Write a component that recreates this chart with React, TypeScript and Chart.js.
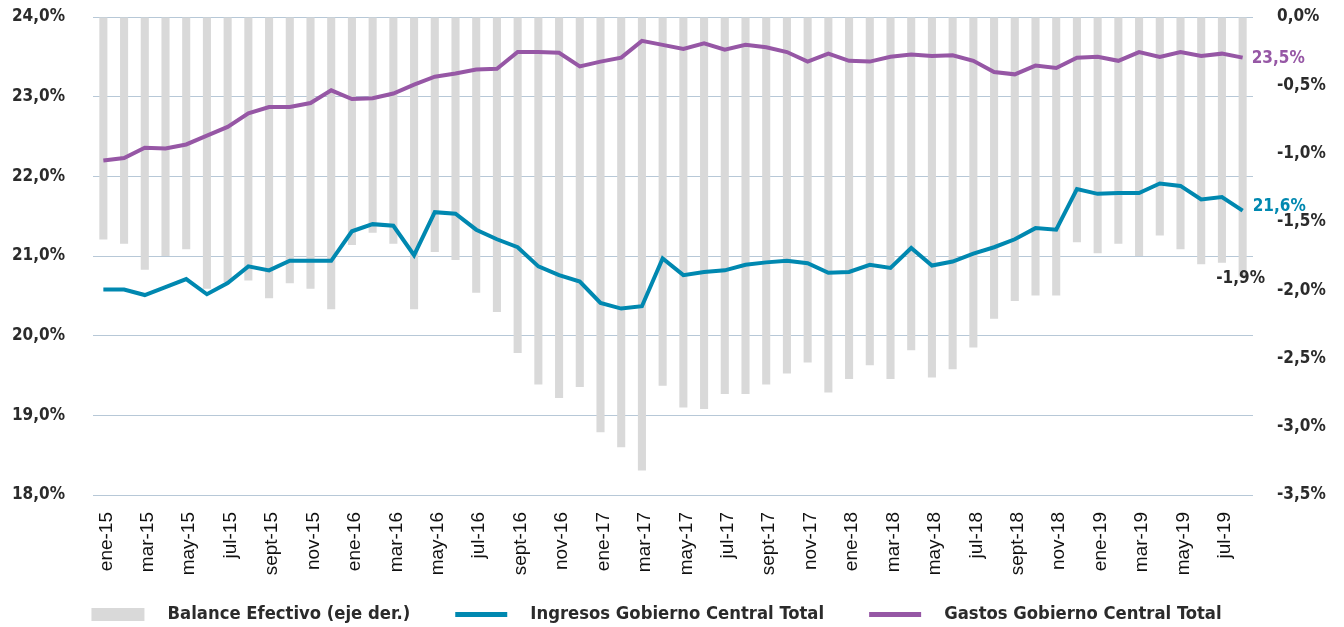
import React, { useEffect, useRef } from 'react';
import { Chart, registerables } from 'chart.js';

Chart.register(...registerables);

const categories = [
  'ene-15', 'feb-15', 'mar-15', 'abr-15', 'may-15', 'jun-15', 'jul-15', 'ago-15', 'sept-15', 'oct-15', 'nov-15', 'dic-15',
  'ene-16', 'feb-16', 'mar-16', 'abr-16', 'may-16', 'jun-16', 'jul-16', 'ago-16', 'sept-16', 'oct-16', 'nov-16', 'dic-16',
  'ene-17', 'feb-17', 'mar-17', 'abr-17', 'may-17', 'jun-17', 'jul-17', 'ago-17', 'sept-17', 'oct-17', 'nov-17', 'dic-17',
  'ene-18', 'feb-18', 'mar-18', 'abr-18', 'may-18', 'jun-18', 'jul-18', 'ago-18', 'sept-18', 'oct-18', 'nov-18', 'dic-18',
  'ene-19', 'feb-19', 'mar-19', 'abr-19', 'may-19', 'jun-19', 'jul-19', 'ago-19',
];

// Balance Efectivo (eje der.), % PIB
const balance = [
  -1.63, -1.66, -1.85, -1.75, -1.70, -1.99, -1.94, -1.93, -2.06, -1.95,
  -1.99, -2.14, -1.67, -1.58, -1.66, -2.14, -1.72, -1.78, -2.02, -2.16,
  -2.46, -2.69, -2.79, -2.71, -3.04, -3.15, -3.32, -2.70, -2.86, -2.87,
  -2.76, -2.76, -2.69, -2.61, -2.53, -2.75, -2.65, -2.55, -2.65, -2.44,
  -2.64, -2.58, -2.42, -2.21, -2.08, -2.04, -2.04, -1.65, -1.73, -1.66,
  -1.75, -1.60, -1.70, -1.81, -1.80, -1.90,
];

// Ingresos Gobierno Central Total, % PIB
const ingresos = [
  20.58, 20.58, 20.51, 20.61, 20.71, 20.52, 20.66, 20.87, 20.82, 20.94,
  20.94, 20.94, 21.31, 21.40, 21.38, 21.01, 21.55, 21.53, 21.33, 21.21,
  21.11, 20.87, 20.76, 20.68, 20.41, 20.34, 20.37, 20.97, 20.76, 20.80,
  20.82, 20.89, 20.92, 20.94, 20.91, 20.79, 20.80, 20.89, 20.85, 21.10,
  20.88, 20.93, 21.03, 21.11, 21.21, 21.35, 21.33, 21.84, 21.78, 21.79,
  21.79, 21.91, 21.88, 21.71, 21.74, 21.57,
];

// Gastos Gobierno Central Total, % PIB
const gastos = [
  22.20, 22.23, 22.36, 22.35, 22.40, 22.51, 22.62, 22.79, 22.87, 22.87,
  22.92, 23.08, 22.97, 22.98, 23.04, 23.15, 23.25, 23.29, 23.34, 23.35,
  23.56, 23.56, 23.55, 23.38, 23.44, 23.49, 23.70, 23.65, 23.60, 23.67,
  23.59, 23.65, 23.62, 23.56, 23.44, 23.54, 23.45, 23.44, 23.50, 23.53,
  23.51, 23.52, 23.45, 23.31, 23.28, 23.39, 23.36, 23.49, 23.50, 23.45,
  23.56, 23.50, 23.56, 23.51, 23.54, 23.49,
];

const seriesNames = ['Balance Efectivo (eje der.)', 'Ingresos Gobierno Central Total', 'Gastos Gobierno Central Total'];

const GRAY = '#d9d9d9';
const BLUE = '#0088b0';
const PURPLE = '#9657a5';
const TEXT = '#2b2b2b';
const GRID = '#b7c8d7';
const CLEAR = 'rgba(0,0,0,0)';
const TICK_FONT = '"DejaVu Sans Condensed", "DejaVu Sans", sans-serif';
const AXIS_X_FONT = '"Liberation Sans", Arial, sans-serif';

const fmt = (v: number) => v.toFixed(1).replace('.', ',') + '%';

function swatch(w: number, h: number, left: number, drawW: number, color: string) {
  const c = document.createElement('canvas');
  c.width = w;
  c.height = h;
  const ctx = c.getContext('2d')!;
  ctx.fillStyle = color;
  ctx.fillRect(left, 0, drawW, h);
  return c;
}

const endLabels = {
  id: 'endLabels',
  afterDatasetsDraw(chart: any) {
    const { ctx } = chart;
    const xs = chart.scales.x;
    const yl = chart.scales.y;
    const yr = chart.scales.y1;
    const last = categories.length - 1;
    const px = xs.getPixelForValue(last);
    ctx.save();
    ctx.font = `bold 17px ${TICK_FONT}`;
    ctx.textBaseline = 'middle';
    ctx.textAlign = 'left';
    ctx.fillStyle = PURPLE;
    ctx.fillText(fmt(gastos[last]), px + 9, yl.getPixelForValue(gastos[last]) + 1);
    ctx.fillStyle = BLUE;
    ctx.fillText(fmt(ingresos[last]), px + 10, yl.getPixelForValue(ingresos[last]) - 4);
    ctx.textAlign = 'center';
    ctx.fillStyle = TEXT;
    ctx.fillText(fmt(balance[last]), px - 2, yr.getPixelForValue(balance[last]) + 2);
    ctx.restore();
  },
};

export default function App() {
  const ref = useRef<HTMLCanvasElement | null>(null);

  useEffect(() => {
    if (!ref.current) return;
    const SW = 94;
    const swatches = [
      swatch(SW, 13, 27, 53, GRAY),
      swatch(SW, 5, 28, 52, BLUE),
      swatch(SW, 5, 28, 52, PURPLE),
    ];
    const chart = new Chart(ref.current, {
      type: 'bar',
      data: {
        labels: categories,
        datasets: [
          {
            type: 'line',
            label: seriesNames[1],
            data: ingresos,
            yAxisID: 'y',
            borderColor: BLUE,
            backgroundColor: BLUE,
            borderWidth: 4,
            pointRadius: 0,
            tension: 0,
            order: 1,
          } as any,
          {
            type: 'line',
            label: seriesNames[2],
            data: gastos,
            yAxisID: 'y',
            borderColor: PURPLE,
            backgroundColor: PURPLE,
            borderWidth: 4,
            pointRadius: 0,
            tension: 0,
            order: 2,
          } as any,
          {
            type: 'bar',
            label: seriesNames[0],
            data: balance,
            yAxisID: 'y1',
            backgroundColor: GRAY,
            categoryPercentage: 1,
            barPercentage: 0.39,
            order: 3,
          } as any,
        ],
      },
      options: {
        animation: false,
        responsive: true,
        maintainAspectRatio: false,
        layout: { padding: { top: 17, right: 0, bottom: 0, left: -58 } },
        plugins: {
          tooltip: { enabled: false },
          legend: {
            position: 'bottom',
            maxHeight: 39,
            labels: {
              usePointStyle: true,
              pointStyleWidth: SW,
              padding: 17,
              color: TEXT,
              font: { family: TICK_FONT, size: 18.3, weight: 'bold' },
              generateLabels: () =>
                seriesNames.map((name, i) => ({
                  text: name,
                  pointStyle: swatches[i],
                  fillStyle: CLEAR,
                  strokeStyle: CLEAR,
                  lineWidth: 0,
                  hidden: false,
                  fontColor: TEXT,
                  datasetIndex: i === 0 ? 2 : i - 1,
                })) as any,
            },
          },
        },
        scales: {
          x: {
            type: 'category',
            offset: true,
            grid: { display: false, drawTicks: false },
            border: { display: false },
            ticks: {
              autoSkip: false,
              minRotation: 90,
              maxRotation: 90,
              padding: 17,
              labelOffset: 3,
              color: '#111111',
              font: { family: AXIS_X_FONT, size: 19 },
              callback: (_v: any, idx: number) => (idx % 2 === 0 ? categories[idx] : ''),
            },
            afterFit: (s: any) => {
              s.height = 93;
            },
          },
          y: {
            position: 'left',
            min: 18,
            max: 24,
            grid: { color: GRID, lineWidth: 1, drawTicks: true, tickLength: 28, tickColor: CLEAR },
            border: { display: false },
            ticks: {
              stepSize: 1,
              padding: 0,
              color: TEXT,
              font: { family: TICK_FONT, size: 17, weight: 'bold' },
              callback: (v: any) => fmt(Number(v)),
            },
            afterFit: (s: any) => {
              s.width = 151;
            },
          },
          y1: {
            position: 'right',
            min: -3.5,
            max: 0,
            grid: { display: true, drawOnChartArea: false, color: CLEAR, drawTicks: true, tickLength: 24, tickColor: CLEAR },
            border: { display: false },
            ticks: {
              stepSize: 0.5,
              padding: 0,
              color: TEXT,
              font: { family: TICK_FONT, size: 17, weight: 'bold' },
              callback: (v: any) => fmt(Number(v)),
            },
            afterFit: (s: any) => {
              s.width = 91;
            },
          },
        },
      } as any,
      plugins: [endLabels],
    });
    return () => chart.destroy();
  }, []);

  return (
    <div style={{ position: 'fixed', left: 0, top: 0, width: 1344, height: 627, background: '#fff' }}>
      <canvas ref={ref} />
    </div>
  );
}
